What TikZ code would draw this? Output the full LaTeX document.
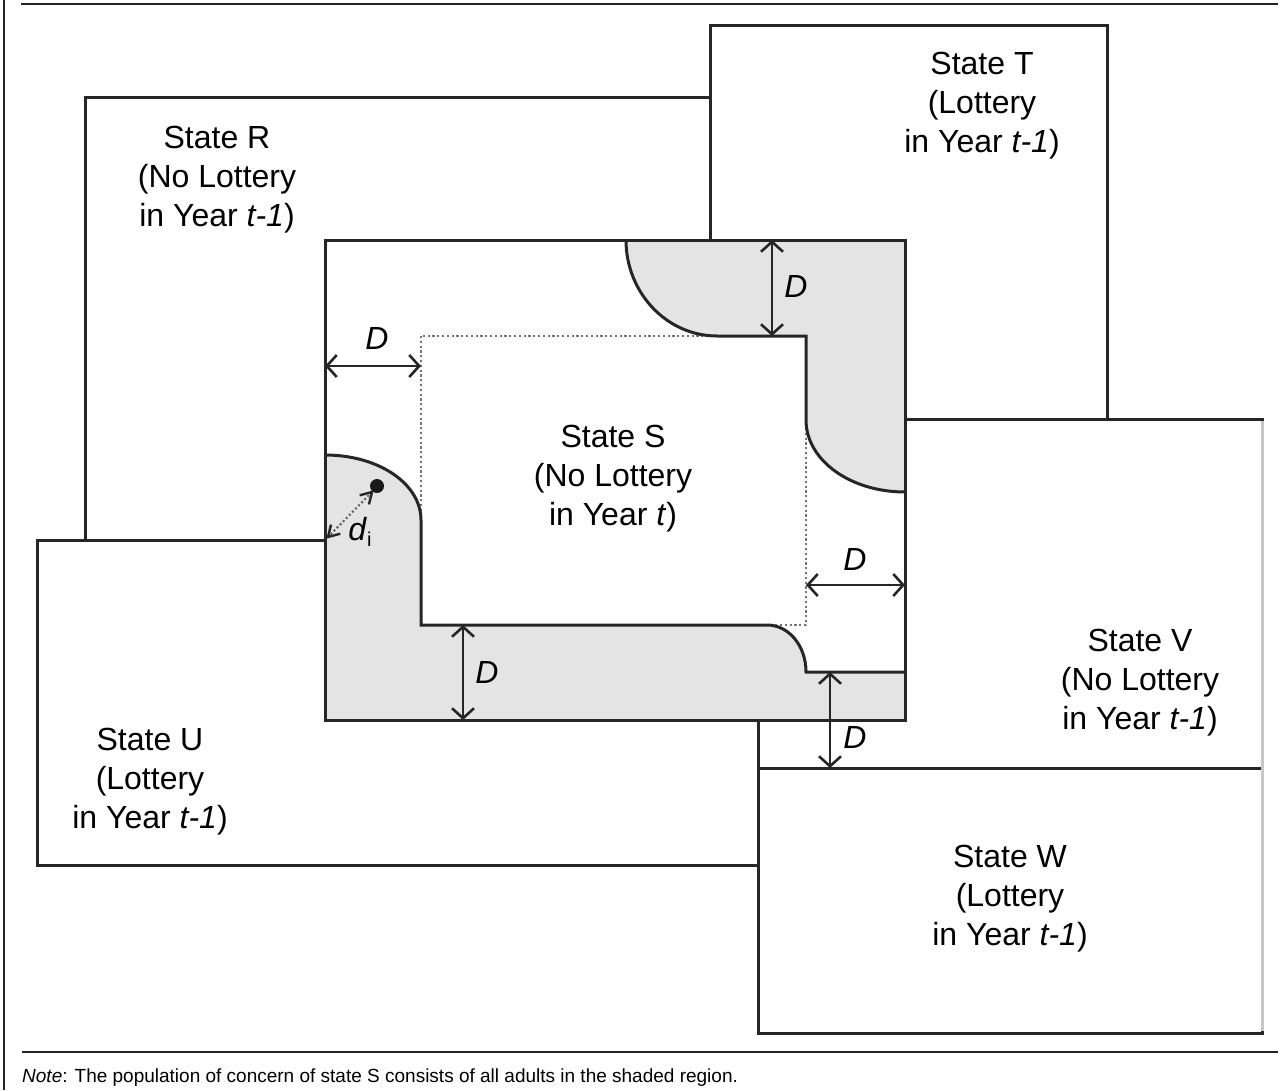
\documentclass[tikz,border=0pt]{standalone}
\usepackage{fontspec}
\setmainfont{Liberation Sans}
\usetikzlibrary{arrows.meta,calc}
\definecolor{shadegray}{HTML}{E4E4E4}
\tikzset{
  framel/.style={line width=2.6pt, draw=black!85},
  statebox/.style={draw=black!85, fill=white, line width=3pt},
  bound/.style={draw=black!85, line width=3pt},
  lbl/.style={align=center, inner sep=0pt, font=\fontsize{32}{39}\selectfont},
  dlbl/.style={inner sep=0pt, font=\fontsize{32}{36}\selectfont\itshape},
  dimarrow/.style={line width=2.6pt, draw=black!85, {Straight Barb[length=10pt,width=22pt]}-{Straight Barb[length=10pt,width=22pt]}},
  dotline/.style={draw=black!55, line width=2.4pt, dash pattern=on 2.2pt off 2.6pt},
  barb/.style={draw=black!85, line width=2.4pt, line join=miter}
}
\begin{document}
\begin{tikzpicture}[x=1pt,y=-1pt]
\useasboundingbox (0,0) rectangle (1288,1090);
\fill[white] (0,0) rectangle (1288,1090);
% frame
\draw[framel] (4,0) -- (4,1090);
\draw[framel] (21,4) -- (1278,4);
\draw[framel] (22,1052) -- (1278,1052);
% neighbouring states
\draw[statebox] (85,97) rectangle (710,540);
\draw[statebox] (710,25) rectangle (1107,419);
\draw[statebox] (37,540) rectangle (758,865);
\draw[statebox] (758,419) rectangle (1262,768);
\draw[statebox] (758,768) rectangle (1262,1033);
\draw[line width=3pt, draw=gray!45] (1262,421) -- (1262,1031);
% state S
\fill[shadegray] (325,240) rectangle (905,720);
\fill[white] (325,240) -- (626,240) .. controls (626,293) and (667,336) .. (717,336)
  -- (806,336) -- (806,420) .. controls (806,460) and (850,492) .. (905,492)
  -- (905,672) -- (806,672) .. controls (806,646) and (789,625) .. (767,625)
  -- (421,625) -- (421,520) .. controls (421,484) and (379,455) .. (325,455) -- cycle;
\draw[dotline] (421,336) rectangle (806,625);
\draw[bound] (626,240) .. controls (626,293) and (667,336) .. (717,336)
  -- (806,336) -- (806,420) .. controls (806,460) and (850,492) .. (905,492);
\draw[bound] (905,672) -- (806,672) .. controls (806,646) and (789,625) .. (767,625)
  -- (421,625) -- (421,520) .. controls (421,484) and (379,455) .. (325,455);
\draw[bound] (325,240) rectangle (905,720);
% dimension arrows
\coordinate (aL1) at (325,366); \coordinate (aL2) at (421,366);
\coordinate (aT1) at (772,240); \coordinate (aT2) at (772,336);
\coordinate (aR1) at (806,585); \coordinate (aR2) at (905,585);
\coordinate (aB1) at (463,625); \coordinate (aB2) at (463,720);
\coordinate (aW1) at (830,672); \coordinate (aW2) at (830,768);
\draw[dimarrow] (aL1) -- (aL2);
\draw[dimarrow] (aT1) -- (aT2);
\draw[dimarrow] (aR1) -- (aR2);
\draw[dimarrow] (aB1) -- (aB2);
\draw[dimarrow] (aW1) -- (aW2);
\node[dlbl] (dL) at (377,338) {D};
\node[dlbl] (dT) at (796,286) {D};
\node[dlbl] (dR) at (855,559) {D};
\node[dlbl] (dB) at (487,672) {D};
\node[dlbl] (dW) at (855,737) {D};
% individual and distance
\fill[black!90] (377,486) circle (7);
\coordinate (di1) at (372,492);
\coordinate (di2) at (328,537);
\draw[line width=2.2pt, draw=black!60, dash pattern=on 2pt off 2.4pt] (di1) -- (di2);
\coordinate (b1) at ($(di1)!11pt!(di2)$);
\coordinate (b2) at ($(di2)!11pt!(di1)$);
\draw[barb] ($(b1)!6.5pt!90:(di1)$) -- (di1) -- ($(b1)!6.5pt!-90:(di1)$);
\draw[barb] ($(b2)!6.5pt!90:(di2)$) -- (di2) -- ($(b2)!6.5pt!-90:(di2)$);
\node[inner sep=0pt, font=\fontsize{32}{36}\selectfont] (dl) at (360,532)
  {\itshape d\/\raisebox{-0.4ex}{\upshape\fontsize{20}{20}\selectfont i}};
% state labels
\node[lbl] (tR) at (217,180) {State R\\(No Lottery\\in Year \textit{t-1})};
\node[lbl] (tT) at (982,106) {State T\\(Lottery\\in Year \textit{t-1})};
\node[lbl] (tS) at (613,479) {State S\\(No Lottery\\in Year \textit{t})};
\node[lbl] (tV) at (1140,683) {State V\\(No Lottery\\in Year \textit{t-1})};
\node[lbl] (tU) at (150,782) {State U\\(Lottery\\in Year \textit{t-1})};
\node[lbl] (tW) at (1010,899) {State W\\(Lottery\\in Year \textit{t-1})};
% note
\node[anchor=base west, inner sep=0pt, font=\fontsize{19}{22}\selectfont] (note) at (22,1082)
  {\textit{Note}: The population of concern of state S consists of all adults in the shaded region.};
\end{tikzpicture}
\end{document}
